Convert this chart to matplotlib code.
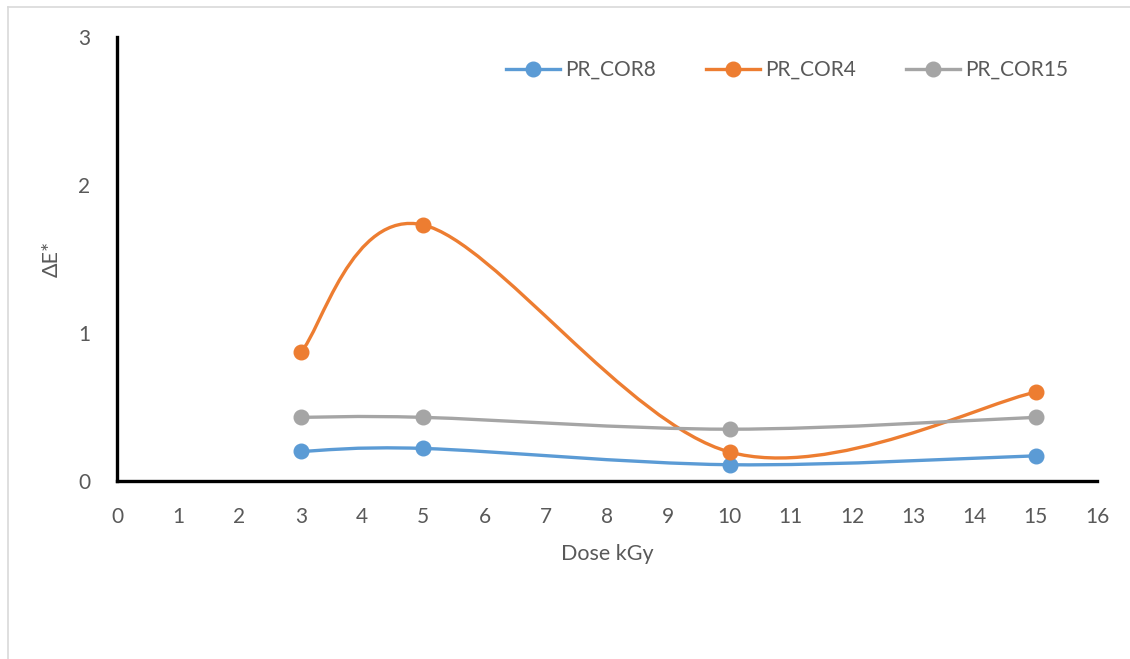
import matplotlib
matplotlib.use("Agg")
import matplotlib.pyplot as plt
from matplotlib.path import Path
from matplotlib.patches import PathPatch
from matplotlib.lines import Line2D

plt.rcParams['font.family'] = ['Lato', 'DejaVu Sans']

dose = [3, 5, 10, 15]
cor8 = [0.20, 0.22, 0.11, 0.17]
cor4 = [0.87, 1.73, 0.196, 0.60]
cor15 = [0.43, 0.43, 0.35, 0.43]
series_names = ["PR_COR8", "PR_COR4", "PR_COR15"]
colors = ["#5B9BD5", "#ED7D31", "#A5A5A5"]
xticks = list(range(0, 17))
yticks = [0, 1, 2, 3]

W, H = 1130, 659
fig = plt.figure(figsize=(W / 100, H / 100), dpi=100)
ax = fig.add_axes([117 / W, (H - 481) / H, 980 / W, 444 / H])


def smooth_path(xs, ys):
    pts = list(zip(xs, ys))
    n = len(pts)
    verts = [pts[0]]
    codes = [Path.MOVETO]
    for i in range(n - 1):
        p0 = pts[i - 1] if i > 0 else pts[i]
        p1 = pts[i]
        p2 = pts[i + 1]
        p3 = pts[i + 2] if i + 2 < n else pts[i + 1]
        c1 = (p1[0] + (p2[0] - p0[0]) / 6, p1[1] + (p2[1] - p0[1]) / 6)
        c2 = (p2[0] - (p3[0] - p1[0]) / 6, p2[1] - (p3[1] - p1[1]) / 6)
        verts += [c1, c2, p2]
        codes += [Path.CURVE4] * 3
    return Path(verts, codes)


handles = []
for ys, name, c in zip([cor8, cor4, cor15], series_names, colors):
    patch = PathPatch(smooth_path(dose, ys), facecolor='none', edgecolor=c,
                      lw=2.4, capstyle='round', joinstyle='round', zorder=2)
    ax.add_patch(patch)
    ax.plot(dose, ys, linestyle='none', marker='o', ms=10.5, color=c, zorder=3)
    handles.append(Line2D([], [], color=c, lw=2.4, marker='o', ms=10.5, label=name))

ax.set_xlim(0, 16)
ax.set_ylim(0, 3)
ax.set_xticks(xticks)
ax.set_yticks(yticks)
ax.tick_params(length=0, labelsize=15, labelcolor='#595959')
ax.tick_params(axis='x', pad=19)
ax.tick_params(axis='y', pad=19)
for s in ['top', 'right']:
    ax.spines[s].set_visible(False)
for s in ['left', 'bottom']:
    ax.spines[s].set_linewidth(2.4)
    ax.spines[s].set_color('black')

ax.set_xlabel("Dose kGy", fontsize=15.5, color='#595959', labelpad=12)
ax.set_ylabel("ΔE*", fontsize=15.5, color='#595959', labelpad=12)

leg = ax.legend(handles=handles, ncol=3, frameon=False, fontsize=15,
                loc='center', bbox_to_anchor=(787 / W, (H - 70) / H),
                bbox_transform=fig.transFigure,
                handlelength=2.6, handletextpad=0.25, columnspacing=2.4)
for t in leg.get_texts():
    t.set_color('#595959')

# outer light border
fig.add_artist(Line2D([8 / W, 8 / W], [0, (H - 7) / H], color='#D9D9D9', lw=1.2,
                      transform=fig.transFigure))
fig.add_artist(Line2D([8 / W, 1], [(H - 7) / H, (H - 7) / H], color='#D9D9D9', lw=1.2,
                      transform=fig.transFigure))

fig.savefig("out.png", dpi=100)
